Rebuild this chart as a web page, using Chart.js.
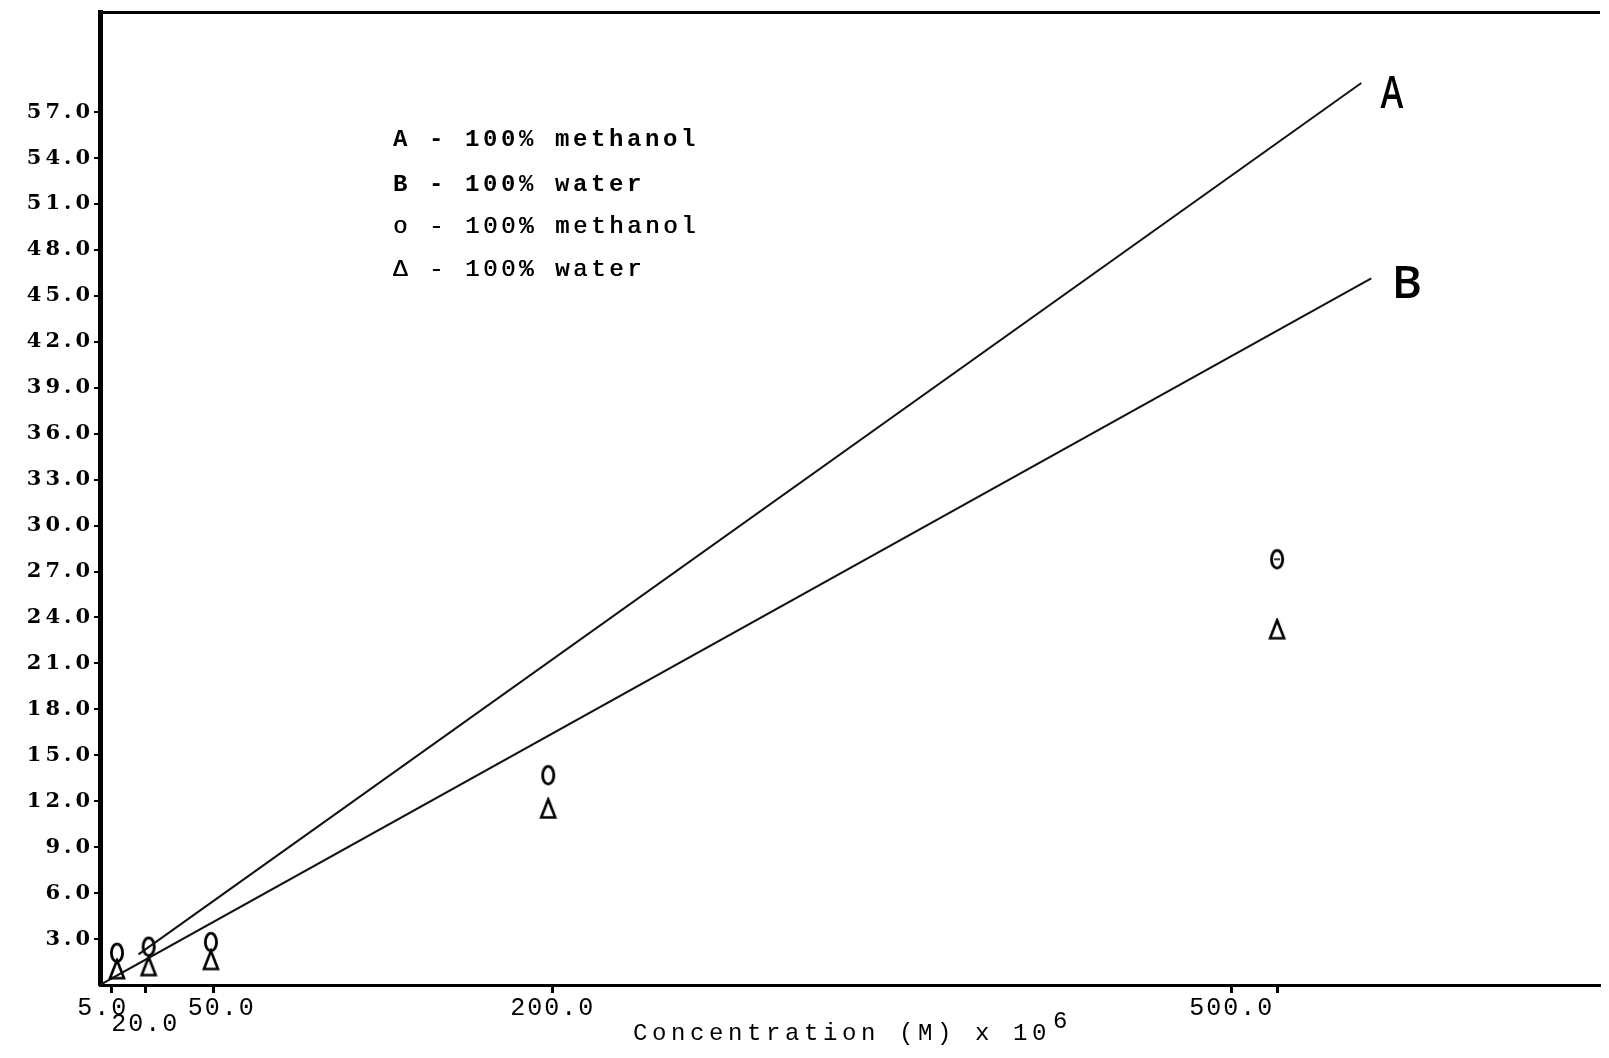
<!DOCTYPE html>
<html>
<head>
<meta charset="utf-8">
<script src="https://cdn.jsdelivr.net/npm/chart.js@4.4.1/dist/chart.umd.min.js"></script>
<style>
html,body{margin:0;padding:0;background:#fff;}
#wrap{width:1609px;height:1058px;position:relative;}
</style>
</head>
<body>
<div id="wrap"><canvas id="c" width="1609" height="1058"></canvas></div>
<script>
// ---- data ----
const concentrations = [7.5, 21.5, 49, 198, 520];       // x of plotted symbols (as drawn)
const methanolValues = [2.1, 2.5, 2.8, 13.7, 27.8];    // "o" symbols
const waterValues    = [1.0, 1.2, 1.6, 11.5, 23.2];    // "Δ" symbols
const lineAX = [17, 557.2];
const lineAY = [2.0, 58.9];
const lineBX = [0, 561.6];
const lineBY = [0, 46.15];
const yTickValues = [3, 6, 9, 12, 15, 18, 21, 24, 27, 30, 33, 36, 39, 42, 45, 48, 51, 54, 57];
const xTickValues = [5, 20, 50, 200, 500, 520];
const xTickLabels = ['5.0', '20.0', '50.0', '200.0', '500.0', ''];
const legendLines = ['A - 100% methanol', 'B - 100% water', 'o - 100% methanol', '\u0394 - 100% water'];
const xTitle = 'Concentration (M) x 10';
const xTitleExp = '6';

// ---- symbol glyphs (typewriter-like) ----
function makeZero(theta) {
  const c = document.createElement('canvas');
  c.width = 20; c.height = 26;
  const g = c.getContext('2d');
  g.strokeStyle = '#000'; g.lineWidth = 2.8;
  g.beginPath(); g.ellipse(10, 13, 5.6, 8.8, 0, 0, Math.PI * 2); g.stroke();
  if (theta) { g.lineWidth = 1.6; g.beginPath(); g.moveTo(7, 13); g.lineTo(13, 13); g.stroke(); }
  return c;
}
function makeDelta() {
  const c = document.createElement('canvas');
  c.width = 20; c.height = 24;
  const g = c.getContext('2d');
  g.strokeStyle = '#000'; g.lineWidth = 2.6; g.lineJoin = 'miter';
  g.beginPath(); g.moveTo(10, 2.5); g.lineTo(17, 20.5); g.lineTo(3, 20.5); g.closePath(); g.stroke();
  return c;
}
const zeroGlyph = makeZero(false);
const thetaGlyph = makeZero(true);
const deltaGlyph = makeDelta();

const toXY = (xs, ys) => xs.map((x, i) => ({ x: x, y: ys[i] }));

const spacingPlugin = {
  id: 'spacing',
  beforeDraw(chart) {
    [['x', '2px'], ['y', '4px']].forEach(([id, sp]) => {
      const s = chart.scales[id];
      if (s && !s._spPatched) {
        const orig = s.drawLabels;
        s.drawLabels = function (area) {
          const ctx = this.ctx;
          ctx.save();
          ctx.letterSpacing = sp;
          orig.call(this, area);
          ctx.restore();
        };
        s._spPatched = true;
      }
    });
  }
};

const textPlugin = {
  id: 'texts',
  afterDraw(chart) {
    const ctx = chart.ctx;
    ctx.save();
    ctx.fillStyle = '#000';
    ctx.textBaseline = 'middle';
    ctx.textAlign = 'left';
    // legend
    const ly = [140, 185, 227, 270];
    legendLines.forEach((t, i) => {
      ctx.letterSpacing = '3.6px';
      ctx.font = (i < 2 ? 'bold ' : '') + '24px "Liberation Mono"';
      ctx.fillText(t, 393, ly[i]);
      if (i >= 2) ctx.fillText(t, 393.6, ly[i]);
    });
    // x-axis title
    ctx.textBaseline = 'alphabetic';
    ctx.letterSpacing = '4.6px';
    ctx.font = '24px "Liberation Mono"';
    ctx.fillText(xTitle, 633, 1040);
    ctx.fillText(xTitleExp, 1053, 1028);
    // handwritten curve labels
    ctx.letterSpacing = '0px';
    ctx.textBaseline = 'middle';
    ctx.textAlign = 'center';
    ctx.font = '600 46px "Open Sans"';
    ctx.save(); ctx.translate(1392, 95); ctx.scale(0.75, 1); ctx.fillText('A', 0, 0); ctx.restore();
    ctx.save(); ctx.translate(1407, 285); ctx.scale(1.0, 1); ctx.fillText('B', 0, 0); ctx.restore();
    ctx.restore();
  }
};

new Chart(document.getElementById('c'), {
  type: 'scatter',
  data: {
    datasets: [
      { label: 'A', data: toXY(lineAX, lineAY), showLine: true, pointRadius: 0, borderColor: '#111', borderWidth: 2, fill: false },
      { label: 'B', data: toXY(lineBX, lineBY), showLine: true, pointRadius: 0, borderColor: '#111', borderWidth: 2, fill: false },
      { label: 'o', data: toXY(concentrations, methanolValues), showLine: false, pointRadius: 9,
        pointStyle: (ctx) => (ctx.dataIndex === 4 ? thetaGlyph : zeroGlyph) },
      { label: 'tri', data: toXY(concentrations, waterValues), showLine: false, pointRadius: 9,
        pointStyle: deltaGlyph }
    ]
  },
  options: {
    responsive: false,
    animation: false,
    devicePixelRatio: 1,
    layout: { padding: { left: 0, right: 0, top: 0, bottom: 0 } },
    plugins: { legend: { display: false }, tooltip: { enabled: false } },
    scales: {
      x: {
        type: 'linear', position: 'bottom', min: 0, max: 662.2,
        afterBuildTicks: (s) => { s.ticks = xTickValues.map(v => ({ value: v })); },
        afterFit: (s) => { s.height = 73; },
        ticks: {
          autoSkip: false, maxRotation: 0, minRotation: 0, color: '#000', padding: 8,
          font: { family: 'Liberation Mono', size: 25, lineHeight: 0.62 },
          callback: (v) => {
            const i = xTickValues.indexOf(v);
            const t = i >= 0 ? xTickLabels[i] : '';
            if (t === '20.0') return ['', t];
            if (t === '5.0') return t + ' ';
            if (t === '50.0') return ' ' + t;
            return t;
          }
        },
        grid: { drawOnChartArea: false, drawTicks: true, tickLength: 8, color: '#000', lineWidth: 3 },
        border: { display: true, color: '#000', width: 3 }
      },
      x2: {
        type: 'linear', position: 'top', min: 0, max: 662.2,
        afterFit: (s) => { s.height = 12; },
        ticks: { display: false },
        grid: { display: false, drawTicks: false },
        border: { display: true, color: '#000', width: 3 }
      },
      y: {
        type: 'linear', position: 'left', min: 0, max: 63.5,
        afterBuildTicks: (s) => { s.ticks = yTickValues.map(v => ({ value: v })); },
        afterFit: (s) => { s.width = 100; },
        ticks: {
          autoSkip: false, color: '#000', padding: 0,
          font: { family: 'DejaVu Serif', size: 21, weight: 'bold' },
          callback: (v) => Number(v).toFixed(1)
        },
        grid: { drawOnChartArea: false, drawTicks: true, tickLength: 6, color: '#000', lineWidth: 2 },
        border: { display: true, color: '#000', width: 5 }
      }
    }
  },
  plugins: [spacingPlugin, textPlugin]
});
</script>
</body>
</html>
